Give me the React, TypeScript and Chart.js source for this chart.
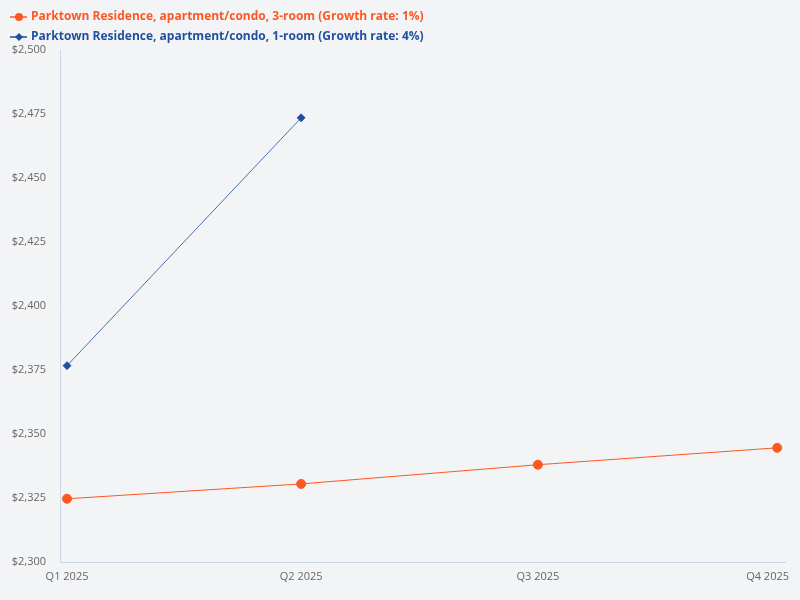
import { useEffect, useRef } from 'react';
import Chart from 'chart.js/auto';

const quarters = ['Q1 2025', 'Q2 2025', 'Q3 2025', 'Q4 2025'];
// days from 1 Jan 2025 to the start of each quarter (the axis is time-based)
const quarterDays = [0, 90, 181, 273];
const threeRoom = [2324.7, 2330.5, 2338.0, 2344.6];
const oneRoom = [2376.7, 2473.5];
const seriesNames = [
  'Parktown Residence, apartment/condo, 3-room (Growth rate: 1%)',
  'Parktown Residence, apartment/condo, 1-room (Growth rate: 4%)',
];

const ORANGE = '#ff5722';
const BLUE = '#1f4f9e';
const FONT = '"Open Sans", "Noto Sans", sans-serif';

// legend drawn by hand (a short line with the series marker, then the name),
// plus the quarter labels, kept inside the canvas like the original
const extras = {
  id: 'extras',
  afterDraw(chart: Chart) {
    const { ctx } = chart;
    ctx.save();
    chart.data.datasets.forEach((ds, i) => {
      const color = ds.borderColor as string;
      const y = 17 + i * 20;
      ctx.strokeStyle = color;
      ctx.fillStyle = color;
      ctx.lineWidth = 1.5;
      ctx.beginPath();
      ctx.moveTo(10, y);
      ctx.lineTo(27, y);
      ctx.stroke();
      ctx.beginPath();
      if (ds.pointStyle === 'circle') {
        ctx.arc(19, y, 4, 0, Math.PI * 2);
      } else {
        ctx.moveTo(19, y - 4);
        ctx.lineTo(23, y);
        ctx.lineTo(19, y + 4);
        ctx.lineTo(15, y);
        ctx.closePath();
      }
      ctx.fill();
      ctx.font = `bold 12px ${FONT}`;
      ctx.textAlign = 'left';
      ctx.textBaseline = 'middle';
      ctx.fillText(ds.label as string, 31, y);
    });

    const xs = chart.scales.x;
    ctx.font = `11px ${FONT}`;
    ctx.fillStyle = '#666666';
    ctx.textAlign = 'center';
    ctx.textBaseline = 'middle';
    quarters.forEach((q, i) => {
      const w = ctx.measureText(q).width;
      let x = xs.getPixelForValue(quarterDays[i]);
      x = Math.min(x, chart.width - 11 - w / 2);
      ctx.fillText(q, x, xs.bottom + 15);
    });
    ctx.restore();
  },
};

export default function App() {
  const canvasRef = useRef<HTMLCanvasElement | null>(null);

  useEffect(() => {
    if (!canvasRef.current) return;
    const ctx = canvasRef.current.getContext('2d');
    if (!ctx) return;

    const chart = new Chart(ctx, {
      type: 'line',
      data: {
        datasets: [
          {
            label: seriesNames[0],
            data: threeRoom.map((v, i) => ({ x: quarterDays[i], y: v })),
            borderColor: ORANGE,
            backgroundColor: ORANGE,
            borderWidth: 1,
            pointRadius: 4.5,
            pointHoverRadius: 4.5,
            pointStyle: 'circle',
            fill: false,
          },
          {
            label: seriesNames[1],
            data: oneRoom.map((v, i) => ({ x: quarterDays[i], y: v })),
            borderColor: BLUE,
            backgroundColor: BLUE,
            borderWidth: 0.8,
            pointRadius: 4,
            pointHoverRadius: 4,
            pointStyle: 'rectRot',
            fill: false,
          },
        ],
      },
      options: {
        responsive: false,
        animation: false,
        layout: { padding: { left: 0, right: 15, top: 50, bottom: 38 } },
        plugins: {
          tooltip: { enabled: false },
          legend: { display: false },
        },
        scales: {
          x: {
            type: 'linear',
            min: -2.7,
            max: 276,
            grid: { display: false, drawTicks: false },
            border: { display: true, color: '#ccd6eb', width: 1 },
            afterBuildTicks: (axis) => {
              axis.ticks = quarterDays.map((d) => ({ value: d }));
            },
            ticks: { display: false },
          },
          y: {
            min: 2300,
            max: 2500,
            grid: { display: false, drawTicks: false },
            border: { display: true, color: '#ccd6eb', width: 1 },
            afterFit: (axis) => {
              axis.width = 60;
            },
            ticks: {
              stepSize: 25,
              color: '#666666',
              padding: 14,
              font: { family: FONT, size: 11 },
              callback: (v) => '$' + Number(v).toLocaleString('en-US'),
            },
          },
        },
      },
      plugins: [extras],
    });

    return () => chart.destroy();
  }, []);

  return (
    <div style={{ position: 'fixed', left: 0, top: 0, width: 800, height: 600, background: '#f3f4f6' }}>
      <canvas ref={canvasRef} width={800} height={600} style={{ width: 800, height: 600, display: 'block' }} />
    </div>
  );
}
